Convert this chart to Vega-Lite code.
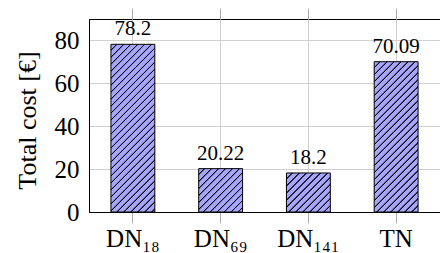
{
  "$schema": "https://vega.github.io/schema/vega-lite/v6.json",
  "width": 351,
  "height": 193,
  "autosize": {"type": "none"},
  "padding": {"left": 89, "top": 19, "right": 0, "bottom": 41},
  "config": {
    "view": {"stroke": "#000", "strokeWidth": 1},
    "font": "Liberation Serif"
  },
  "data": {
    "values": [
      {"name": "DN₁₈", "cost": 78.2},
      {"name": "DN₆₉", "cost": 20.22},
      {"name": "DN₁₄₁", "cost": 18.2},
      {"name": "TN", "cost": 70.09}
    ]
  },
  "layer": [
    {
      "mark": {"type": "bar", "stroke": "#000", "strokeWidth": 1},
      "encoding": {
        "x": {
          "field": "name", "type": "nominal", "sort": null,
          "scale": {"paddingInner": 0.5, "paddingOuter": 0.25},
          "axis": {
            "orient": "bottom", "title": null, "labelAngle": 0,
            "labelFont": "Liberation Serif", "labelFontSize": 25, "labelColor": "#000",
            "labelBaseline": "alphabetic", "labelPadding": 23,
            "tickSize": 11, "tickColor": "#aaaaaa", "domainColor": "#000",
            "grid": true, "gridColor": "#d0d0d0"
          }
        },
        "y": {
          "field": "cost", "type": "quantitative",
          "scale": {"domain": [0, 90], "nice": false},
          "axis": {
            "values": [0, 20, 40, 60, 80], "title": "Total cost [€]",
            "labelFont": "Liberation Serif", "labelFontSize": 25, "labelColor": "#000",
            "labelPadding": 10, "ticks": false, "tickSize": 0, "labelBaseline": "middle",
            "domainColor": "#000", "grid": true, "gridColor": "#d0d0d0",
            "titleFont": "Liberation Serif", "titleFontSize": 26, "titleFontWeight": "normal",
            "titleColor": "#000", "titleX": -54, "titleY": 101, "titleBaseline": "alphabetic",
            "titleAlign": "center", "titleAngle": 270
          }
        },
        "fill": {
          "condition": [
            {"test": "datum.name === 'DN₁₈'", "value": {"gradient": "linear", "x1": 0, "y1": 0, "x2": 0.31, "y2": 1.181, "stops": [
              {"offset":0,"color":"#a6a6ff"},
              {"offset":0.0231,"color":"#a6a6ff"},{"offset":0.0264,"color":"#000"},{"offset":0.0297,"color":"#000"},{"offset":0.033,"color":"#a6a6ff"},
              {"offset":0.0561,"color":"#a6a6ff"},{"offset":0.0594,"color":"#000"},{"offset":0.0627,"color":"#000"},{"offset":0.066,"color":"#a6a6ff"},
              {"offset":0.0891,"color":"#a6a6ff"},{"offset":0.0924,"color":"#000"},{"offset":0.0957,"color":"#000"},{"offset":0.099,"color":"#a6a6ff"},
              {"offset":0.1221,"color":"#a6a6ff"},{"offset":0.1254,"color":"#000"},{"offset":0.1287,"color":"#000"},{"offset":0.132,"color":"#a6a6ff"},
              {"offset":0.1551,"color":"#a6a6ff"},{"offset":0.1584,"color":"#000"},{"offset":0.1617,"color":"#000"},{"offset":0.165,"color":"#a6a6ff"},
              {"offset":0.1881,"color":"#a6a6ff"},{"offset":0.1914,"color":"#000"},{"offset":0.1947,"color":"#000"},{"offset":0.198,"color":"#a6a6ff"},
              {"offset":0.2211,"color":"#a6a6ff"},{"offset":0.2244,"color":"#000"},{"offset":0.2277,"color":"#000"},{"offset":0.231,"color":"#a6a6ff"},
              {"offset":0.2541,"color":"#a6a6ff"},{"offset":0.2574,"color":"#000"},{"offset":0.2607,"color":"#000"},{"offset":0.264,"color":"#a6a6ff"},
              {"offset":0.2871,"color":"#a6a6ff"},{"offset":0.2904,"color":"#000"},{"offset":0.2937,"color":"#000"},{"offset":0.297,"color":"#a6a6ff"},
              {"offset":0.3201,"color":"#a6a6ff"},{"offset":0.3234,"color":"#000"},{"offset":0.3267,"color":"#000"},{"offset":0.33,"color":"#a6a6ff"},
              {"offset":0.3531,"color":"#a6a6ff"},{"offset":0.3564,"color":"#000"},{"offset":0.3597,"color":"#000"},{"offset":0.363,"color":"#a6a6ff"},
              {"offset":0.3861,"color":"#a6a6ff"},{"offset":0.3894,"color":"#000"},{"offset":0.3927,"color":"#000"},{"offset":0.396,"color":"#a6a6ff"},
              {"offset":0.4191,"color":"#a6a6ff"},{"offset":0.4224,"color":"#000"},{"offset":0.4257,"color":"#000"},{"offset":0.429,"color":"#a6a6ff"},
              {"offset":0.4521,"color":"#a6a6ff"},{"offset":0.4554,"color":"#000"},{"offset":0.4587,"color":"#000"},{"offset":0.462,"color":"#a6a6ff"},
              {"offset":0.4851,"color":"#a6a6ff"},{"offset":0.4884,"color":"#000"},{"offset":0.4917,"color":"#000"},{"offset":0.495,"color":"#a6a6ff"},
              {"offset":0.5181,"color":"#a6a6ff"},{"offset":0.5214,"color":"#000"},{"offset":0.5247,"color":"#000"},{"offset":0.528,"color":"#a6a6ff"},
              {"offset":0.5511,"color":"#a6a6ff"},{"offset":0.5544,"color":"#000"},{"offset":0.5577,"color":"#000"},{"offset":0.561,"color":"#a6a6ff"},
              {"offset":0.5841,"color":"#a6a6ff"},{"offset":0.5874,"color":"#000"},{"offset":0.5907,"color":"#000"},{"offset":0.594,"color":"#a6a6ff"},
              {"offset":0.6171,"color":"#a6a6ff"},{"offset":0.6204,"color":"#000"},{"offset":0.6237,"color":"#000"},{"offset":0.627,"color":"#a6a6ff"},
              {"offset":0.6501,"color":"#a6a6ff"},{"offset":0.6534,"color":"#000"},{"offset":0.6567,"color":"#000"},{"offset":0.66,"color":"#a6a6ff"},
              {"offset":0.6831,"color":"#a6a6ff"},{"offset":0.6864,"color":"#000"},{"offset":0.6897,"color":"#000"},{"offset":0.693,"color":"#a6a6ff"},
              {"offset":0.7161,"color":"#a6a6ff"},{"offset":0.7194,"color":"#000"},{"offset":0.7227,"color":"#000"},{"offset":0.726,"color":"#a6a6ff"},
              {"offset":0.7491,"color":"#a6a6ff"},{"offset":0.7524,"color":"#000"},{"offset":0.7557,"color":"#000"},{"offset":0.759,"color":"#a6a6ff"},
              {"offset":0.7821,"color":"#a6a6ff"},{"offset":0.7854,"color":"#000"},{"offset":0.7887,"color":"#000"},{"offset":0.792,"color":"#a6a6ff"},
              {"offset":0.8151,"color":"#a6a6ff"},{"offset":0.8184,"color":"#000"},{"offset":0.8217,"color":"#000"},{"offset":0.825,"color":"#a6a6ff"},
              {"offset":0.8481,"color":"#a6a6ff"},{"offset":0.8514,"color":"#000"},{"offset":0.8547,"color":"#000"},{"offset":0.858,"color":"#a6a6ff"},
              {"offset":0.8811,"color":"#a6a6ff"},{"offset":0.8844,"color":"#000"},{"offset":0.8877,"color":"#000"},{"offset":0.891,"color":"#a6a6ff"},
              {"offset":0.9141,"color":"#a6a6ff"},{"offset":0.9174,"color":"#000"},{"offset":0.9207,"color":"#000"},{"offset":0.924,"color":"#a6a6ff"},
              {"offset":0.9471,"color":"#a6a6ff"},{"offset":0.9504,"color":"#000"},{"offset":0.9537,"color":"#000"},{"offset":0.957,"color":"#a6a6ff"},
              {"offset":0.9801,"color":"#a6a6ff"},{"offset":0.9834,"color":"#000"},{"offset":0.9867,"color":"#000"},{"offset":0.99,"color":"#a6a6ff"},
              {"offset":1,"color":"#a6a6ff"}
            ]}},
            {"test": "datum.name === 'DN₆₉'", "value": {"gradient": "linear", "x1": 0, "y1": 0, "x2": 1.007, "y2": 0.993, "stops": [
              {"offset":0,"color":"#a6a6ff"},
              {"offset":0.056,"color":"#a6a6ff"},{"offset":0.064,"color":"#000"},{"offset":0.072,"color":"#000"},{"offset":0.08,"color":"#a6a6ff"},
              {"offset":0.136,"color":"#a6a6ff"},{"offset":0.144,"color":"#000"},{"offset":0.152,"color":"#000"},{"offset":0.16,"color":"#a6a6ff"},
              {"offset":0.216,"color":"#a6a6ff"},{"offset":0.224,"color":"#000"},{"offset":0.232,"color":"#000"},{"offset":0.24,"color":"#a6a6ff"},
              {"offset":0.296,"color":"#a6a6ff"},{"offset":0.304,"color":"#000"},{"offset":0.312,"color":"#000"},{"offset":0.32,"color":"#a6a6ff"},
              {"offset":0.376,"color":"#a6a6ff"},{"offset":0.384,"color":"#000"},{"offset":0.392,"color":"#000"},{"offset":0.4,"color":"#a6a6ff"},
              {"offset":0.456,"color":"#a6a6ff"},{"offset":0.464,"color":"#000"},{"offset":0.472,"color":"#000"},{"offset":0.48,"color":"#a6a6ff"},
              {"offset":0.536,"color":"#a6a6ff"},{"offset":0.544,"color":"#000"},{"offset":0.552,"color":"#000"},{"offset":0.56,"color":"#a6a6ff"},
              {"offset":0.616,"color":"#a6a6ff"},{"offset":0.624,"color":"#000"},{"offset":0.632,"color":"#000"},{"offset":0.64,"color":"#a6a6ff"},
              {"offset":0.696,"color":"#a6a6ff"},{"offset":0.704,"color":"#000"},{"offset":0.712,"color":"#000"},{"offset":0.72,"color":"#a6a6ff"},
              {"offset":0.776,"color":"#a6a6ff"},{"offset":0.784,"color":"#000"},{"offset":0.792,"color":"#000"},{"offset":0.8,"color":"#a6a6ff"},
              {"offset":0.856,"color":"#a6a6ff"},{"offset":0.864,"color":"#000"},{"offset":0.872,"color":"#000"},{"offset":0.88,"color":"#a6a6ff"},
              {"offset":0.936,"color":"#a6a6ff"},{"offset":0.944,"color":"#000"},{"offset":0.952,"color":"#000"},{"offset":0.96,"color":"#a6a6ff"},
              {"offset":1,"color":"#a6a6ff"}
            ]}},
            {"test": "datum.name === 'DN₁₄₁'", "value": {"gradient": "linear", "x1": 0, "y1": 0, "x2": 1.056, "y2": 0.936, "stops": [
              {"offset":0,"color":"#a6a6ff"},
              {"offset":0.0595,"color":"#a6a6ff"},{"offset":0.068,"color":"#000"},{"offset":0.0765,"color":"#000"},{"offset":0.085,"color":"#a6a6ff"},
              {"offset":0.1445,"color":"#a6a6ff"},{"offset":0.153,"color":"#000"},{"offset":0.1615,"color":"#000"},{"offset":0.17,"color":"#a6a6ff"},
              {"offset":0.2295,"color":"#a6a6ff"},{"offset":0.238,"color":"#000"},{"offset":0.2465,"color":"#000"},{"offset":0.255,"color":"#a6a6ff"},
              {"offset":0.3145,"color":"#a6a6ff"},{"offset":0.323,"color":"#000"},{"offset":0.3315,"color":"#000"},{"offset":0.34,"color":"#a6a6ff"},
              {"offset":0.3995,"color":"#a6a6ff"},{"offset":0.408,"color":"#000"},{"offset":0.4165,"color":"#000"},{"offset":0.425,"color":"#a6a6ff"},
              {"offset":0.4845,"color":"#a6a6ff"},{"offset":0.493,"color":"#000"},{"offset":0.5015,"color":"#000"},{"offset":0.51,"color":"#a6a6ff"},
              {"offset":0.5695,"color":"#a6a6ff"},{"offset":0.578,"color":"#000"},{"offset":0.5865,"color":"#000"},{"offset":0.595,"color":"#a6a6ff"},
              {"offset":0.6545,"color":"#a6a6ff"},{"offset":0.663,"color":"#000"},{"offset":0.6715,"color":"#000"},{"offset":0.68,"color":"#a6a6ff"},
              {"offset":0.7395,"color":"#a6a6ff"},{"offset":0.748,"color":"#000"},{"offset":0.7565,"color":"#000"},{"offset":0.765,"color":"#a6a6ff"},
              {"offset":0.8245,"color":"#a6a6ff"},{"offset":0.833,"color":"#000"},{"offset":0.8415,"color":"#000"},{"offset":0.85,"color":"#a6a6ff"},
              {"offset":0.9095,"color":"#a6a6ff"},{"offset":0.918,"color":"#000"},{"offset":0.9265,"color":"#000"},{"offset":0.935,"color":"#a6a6ff"},
              {"offset":1,"color":"#a6a6ff"}
            ]}}
          ],
          "value": {"gradient": "linear", "x1": 0, "y1": 0, "x2": 0.349, "y2": 1.191, "stops": [
            {"offset":0,"color":"#a6a6ff"},
            {"offset":0.0252,"color":"#a6a6ff"},{"offset":0.0288,"color":"#000"},{"offset":0.0324,"color":"#000"},{"offset":0.036,"color":"#a6a6ff"},
            {"offset":0.0612,"color":"#a6a6ff"},{"offset":0.0648,"color":"#000"},{"offset":0.0684,"color":"#000"},{"offset":0.072,"color":"#a6a6ff"},
            {"offset":0.0972,"color":"#a6a6ff"},{"offset":0.1008,"color":"#000"},{"offset":0.1044,"color":"#000"},{"offset":0.108,"color":"#a6a6ff"},
            {"offset":0.1332,"color":"#a6a6ff"},{"offset":0.1368,"color":"#000"},{"offset":0.1404,"color":"#000"},{"offset":0.144,"color":"#a6a6ff"},
            {"offset":0.1692,"color":"#a6a6ff"},{"offset":0.1728,"color":"#000"},{"offset":0.1764,"color":"#000"},{"offset":0.18,"color":"#a6a6ff"},
            {"offset":0.2052,"color":"#a6a6ff"},{"offset":0.2088,"color":"#000"},{"offset":0.2124,"color":"#000"},{"offset":0.216,"color":"#a6a6ff"},
            {"offset":0.2412,"color":"#a6a6ff"},{"offset":0.2448,"color":"#000"},{"offset":0.2484,"color":"#000"},{"offset":0.252,"color":"#a6a6ff"},
            {"offset":0.2772,"color":"#a6a6ff"},{"offset":0.2808,"color":"#000"},{"offset":0.2844,"color":"#000"},{"offset":0.288,"color":"#a6a6ff"},
            {"offset":0.3132,"color":"#a6a6ff"},{"offset":0.3168,"color":"#000"},{"offset":0.3204,"color":"#000"},{"offset":0.324,"color":"#a6a6ff"},
            {"offset":0.3492,"color":"#a6a6ff"},{"offset":0.3528,"color":"#000"},{"offset":0.3564,"color":"#000"},{"offset":0.36,"color":"#a6a6ff"},
            {"offset":0.3852,"color":"#a6a6ff"},{"offset":0.3888,"color":"#000"},{"offset":0.3924,"color":"#000"},{"offset":0.396,"color":"#a6a6ff"},
            {"offset":0.4212,"color":"#a6a6ff"},{"offset":0.4248,"color":"#000"},{"offset":0.4284,"color":"#000"},{"offset":0.432,"color":"#a6a6ff"},
            {"offset":0.4572,"color":"#a6a6ff"},{"offset":0.4608,"color":"#000"},{"offset":0.4644,"color":"#000"},{"offset":0.468,"color":"#a6a6ff"},
            {"offset":0.4932,"color":"#a6a6ff"},{"offset":0.4968,"color":"#000"},{"offset":0.5004,"color":"#000"},{"offset":0.504,"color":"#a6a6ff"},
            {"offset":0.5292,"color":"#a6a6ff"},{"offset":0.5328,"color":"#000"},{"offset":0.5364,"color":"#000"},{"offset":0.54,"color":"#a6a6ff"},
            {"offset":0.5652,"color":"#a6a6ff"},{"offset":0.5688,"color":"#000"},{"offset":0.5724,"color":"#000"},{"offset":0.576,"color":"#a6a6ff"},
            {"offset":0.6012,"color":"#a6a6ff"},{"offset":0.6048,"color":"#000"},{"offset":0.6084,"color":"#000"},{"offset":0.612,"color":"#a6a6ff"},
            {"offset":0.6372,"color":"#a6a6ff"},{"offset":0.6408,"color":"#000"},{"offset":0.6444,"color":"#000"},{"offset":0.648,"color":"#a6a6ff"},
            {"offset":0.6732,"color":"#a6a6ff"},{"offset":0.6768,"color":"#000"},{"offset":0.6804,"color":"#000"},{"offset":0.684,"color":"#a6a6ff"},
            {"offset":0.7092,"color":"#a6a6ff"},{"offset":0.7128,"color":"#000"},{"offset":0.7164,"color":"#000"},{"offset":0.72,"color":"#a6a6ff"},
            {"offset":0.7452,"color":"#a6a6ff"},{"offset":0.7488,"color":"#000"},{"offset":0.7524,"color":"#000"},{"offset":0.756,"color":"#a6a6ff"},
            {"offset":0.7812,"color":"#a6a6ff"},{"offset":0.7848,"color":"#000"},{"offset":0.7884,"color":"#000"},{"offset":0.792,"color":"#a6a6ff"},
            {"offset":0.8172,"color":"#a6a6ff"},{"offset":0.8208,"color":"#000"},{"offset":0.8244,"color":"#000"},{"offset":0.828,"color":"#a6a6ff"},
            {"offset":0.8532,"color":"#a6a6ff"},{"offset":0.8568,"color":"#000"},{"offset":0.8604,"color":"#000"},{"offset":0.864,"color":"#a6a6ff"},
            {"offset":0.8892,"color":"#a6a6ff"},{"offset":0.8928,"color":"#000"},{"offset":0.8964,"color":"#000"},{"offset":0.9,"color":"#a6a6ff"},
            {"offset":0.9252,"color":"#a6a6ff"},{"offset":0.9288,"color":"#000"},{"offset":0.9324,"color":"#000"},{"offset":0.936,"color":"#a6a6ff"},
            {"offset":0.9612,"color":"#a6a6ff"},{"offset":0.9648,"color":"#000"},{"offset":0.9684,"color":"#000"},{"offset":0.972,"color":"#a6a6ff"},
            {"offset":1,"color":"#a6a6ff"}
          ]}
        }
      }
    },
    {
      "mark": {"type": "text", "dy": -9, "baseline": "alphabetic", "fontSize": 21, "font": "Liberation Serif", "color": "#000"},
      "encoding": {
        "x": {
          "field": "name", "type": "nominal", "sort": null,
          "axis": {"orient": "top", "title": null, "labels": false, "domain": false, "grid": false, "tickSize": 11, "tickColor": "#aaaaaa"}
        },
        "y": {"field": "cost", "type": "quantitative", "scale": {"domain": [0, 90], "nice": false}},
        "text": {"field": "cost", "type": "quantitative", "format": ".4~g"}
      }
    }
  ],
  "resolve": {"axis": {"x": "independent"}}
}
